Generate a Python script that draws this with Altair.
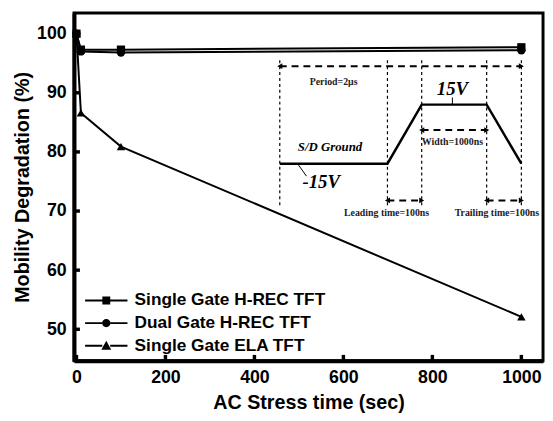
import altair as alt
import pandas as pd

# ---------------- data ----------------
time_sec = [0, 10, 100, 1000]
single_hrec = [100, 97.3, 97.3, 97.7]
dual_hrec = [100, 97.0, 96.8, 97.2]
single_ela = [100, 86.6, 80.9, 52.1]
series_names = ["Single Gate H-REC TFT", "Dual Gate H-REC TFT", "Single Gate ELA TFT"]
marker_shapes = ["square", "circle", "triangle-up"]
marker_sizes = [70, 75, 115]
# legend glyphs: short line with the marker in its middle (filled shapes only)
legend_paths = [
    "M-4.3,-0.2H-0.8V0.2H-4.3ZM0.8,-0.2H4.3V0.2H0.8ZM-0.8,-0.8H0.8V0.8H-0.8Z",
    "M-4.3,-0.2H-0.85V0.2H-4.3ZM0.85,-0.2H4.3V0.2H0.85ZM-0.85,0A0.85,0.85 0 1,0 0.85,0A0.85,0.85 0 1,0 -0.85,0Z",
    "M-4.3,-0.2H-0.8V0.2H-4.3ZM0.8,-0.2H4.3V0.2H0.8ZM0,-1.0L1.0,0.8H-1.0Z",
]
x_ticks = [0, 200, 400, 600, 800, 1000]
y_ticks = [50, 60, 70, 80, 90, 100]

# inset pulse schematic (in chart data units)
pulse_x = [457, 699, 776, 922, 1000]
pulse_y = [78, 78, 88, 88, 78]
guide_x = [457, 699, 776, 922, 1000]
guide_top = [95.5] * 5
guide_bottom = [70.7] * 5
arrow_start = [457, 776, 699, 922]
arrow_end = [1000, 922, 776, 1000]
arrow_y = [94.5, 83.7, 71.8, 71.8]
small_labels = ["Period=2\u03bcs", "Width=1000ns", "Leading time=100ns", "Trailing time=100ns"]
small_x = [578, 845, 697, 945]
small_y = [91.8, 81.7, 69.6, 69.6]
volt_labels = ["15V", "-15V"]
volt_x = [845, 550]
volt_y = [90.6, 74.9]
ground_label = ["S/D Ground"]
ground_x = [570]
ground_y = [80.8]
pointer_x = [845, 497]
pointer_x2 = [845, 517]
pointer_y = [88, 78]
pointer_y2 = [89.2, 75.9]

W, H = 476, 353

# ---------------- frames ----------------
rows = []
for name, vals in zip(series_names, [single_hrec, dual_hrec, single_ela]):
    for t, v in zip(time_sec, vals):
        rows.append({"time": t, "value": v, "series": name})
main = pd.DataFrame(rows)

xs = alt.Scale(domain=[-5.5, 1048.7], nice=False, zero=False)
ys = alt.Scale(domain=[44.667, 103.5], nice=False, zero=False)

x_axis = alt.Axis(values=x_ticks, format="d", title="AC Stress time (sec)", ticks=False, tickSize=0,
                  grid=False, labelPadding=8, titlePadding=6)
y_axis = alt.Axis(values=y_ticks, format="d", title="Mobility Degradation (%)", ticks=False, tickSize=0,
                  grid=False, labelPadding=8, titlePadding=4)


def X(field):
    return alt.X(field, type="quantitative", scale=xs, axis=x_axis)


def Y(field):
    return alt.Y(field, type="quantitative", scale=ys, axis=y_axis)


lines = alt.Chart(main).mark_line(color="black", strokeWidth=2).encode(
    x=X("time"), y=Y("value"), detail="series:N"
)
points = alt.Chart(main).mark_point(filled=True, color="black", opacity=1).encode(
    x=X("time"), y=Y("value"),
    shape=alt.Shape("series:N", scale=alt.Scale(domain=series_names, range=marker_shapes), legend=None),
    size=alt.Size("series:N", scale=alt.Scale(domain=series_names, range=marker_sizes), legend=None),
)
legend_layer = alt.Chart(main).mark_point(
    filled=True, color="black", opacity=0
).encode(
    x=X("time"), y=Y("value"),
    shape=alt.Shape(
        "series:N",
        scale=alt.Scale(domain=series_names, range=legend_paths),
        legend=alt.Legend(
            title=None, orient="none", legendX=24, legendY=283,
            labelFont="Liberation Sans", labelFontSize=17.5, labelFontWeight="bold",
            labelColor="black", labelLimit=0, symbolSize=100, symbolStrokeWidth=0,
            symbolFillColor="black", symbolOpacity=1,
            rowPadding=4, padding=0, labelOffset=20,
        ),
    ),
)

# inward tick marks
xt = pd.DataFrame({"t": x_ticks})
yt = pd.DataFrame({"v": y_ticks})
xtick_rules = alt.Chart(xt).mark_rule(color="black", strokeWidth=3.5).encode(
    x=X("t"), y=alt.value(H), y2=alt.value(H - 6)
)
ytick_rules = alt.Chart(yt).mark_rule(color="black", strokeWidth=3.5).encode(
    y=Y("v"), x=alt.value(0), x2=alt.value(6)
)

# inset
pulse_df = pd.DataFrame({"x": pulse_x, "y": pulse_y, "o": list(range(len(pulse_x)))})
pulse = alt.Chart(pulse_df).mark_line(color="black", strokeWidth=2.5).encode(
    x=X("x"), y=Y("y"), order="o:Q"
)
guide_df = pd.DataFrame({"x": guide_x, "y1": guide_top, "y2": guide_bottom})
guides = alt.Chart(guide_df).mark_rule(color="black", strokeWidth=1.2, strokeDash=[3, 3]).encode(
    x=X("x"), y=Y("y1"), y2="y2"
)
arr_df = pd.DataFrame({"xa": arrow_start, "xb": arrow_end, "y": arrow_y})
arrows = alt.Chart(arr_df).mark_rule(color="black", strokeWidth=2, strokeDash=[7, 5]).encode(
    x=X("xa"), x2="xb", y=Y("y")
)
heads_l = alt.Chart(arr_df).mark_point(shape="triangle-left", filled=True, color="black", size=35, opacity=1).encode(
    x=X("xa"), y=Y("y")
)
heads_r = alt.Chart(arr_df).mark_point(shape="triangle-right", filled=True, color="black", size=35, opacity=1).encode(
    x=X("xb"), y=Y("y")
)
ptr_df = pd.DataFrame({"x": pointer_x, "x2": pointer_x2, "y": pointer_y, "y2": pointer_y2})
pointers = alt.Chart(ptr_df).mark_rule(color="black", strokeWidth=1).encode(
    x=X("x"), x2="x2", y=Y("y"), y2="y2"
)
small_df = pd.DataFrame({"x": small_x, "y": small_y, "label": small_labels})
small_text = alt.Chart(small_df).mark_text(
    font="Liberation Serif", fontSize=10, fontWeight="bold", color="#222"
).encode(x=X("x"), y=Y("y"), text="label:N")
volt_df = pd.DataFrame({"x": volt_x, "y": volt_y, "label": volt_labels})
volt_text = alt.Chart(volt_df).mark_text(
    font="Liberation Serif", fontSize=19, fontWeight="bold", fontStyle="italic", color="black"
).encode(x=X("x"), y=Y("y"), text="label:N")
gnd_df = pd.DataFrame({"x": ground_x, "y": ground_y, "label": ground_label})
gnd_text = alt.Chart(gnd_df).mark_text(
    font="Liberation Serif", fontSize=13, fontWeight="bold", fontStyle="italic", color="black"
).encode(x=X("x"), y=Y("y"), text="label:N")

chart = alt.layer(
    guides, arrows, heads_l, heads_r, pulse, pointers, small_text, volt_text, gnd_text,
    xtick_rules, ytick_rules, lines, points, legend_layer,
).resolve_scale(shape="independent").properties(
    width=W, height=H,
    autosize=alt.AutoSizeParams(type="none"),
    padding={"left": 67, "top": 2, "right": 2, "bottom": 56},
).configure_view(
    stroke="black", strokeWidth=3
).configure_axis(
    domainColor="black", domainWidth=4,
    labelFont="Liberation Sans", labelFontSize=18, labelFontWeight="bold", labelColor="black",
    titleFont="Liberation Sans", titleFontSize=20, titleFontWeight="bold", titleColor="black",
)

chart.save("out.html", embed_options={"renderer": "svg", "actions": False})
